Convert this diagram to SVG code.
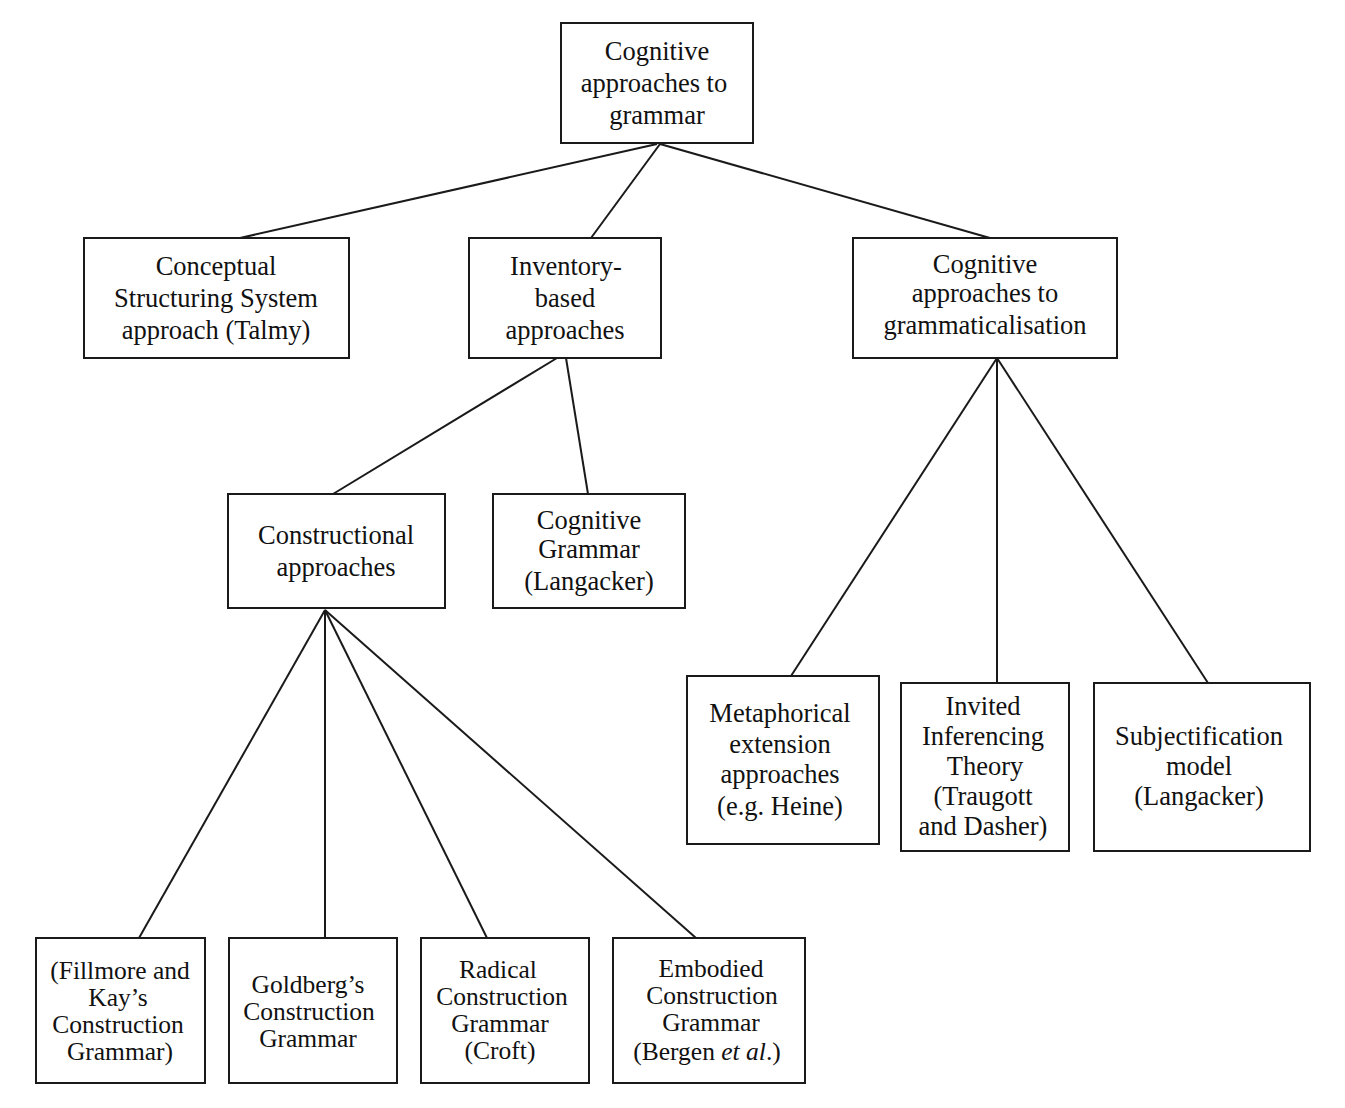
<svg xmlns="http://www.w3.org/2000/svg" width="1345" height="1108" viewBox="0 0 1345 1108">
<style>
rect{fill:#fff;stroke:#1a1a1a;stroke-width:2}
text{font-family:"Liberation Serif","Times New Roman",serif;font-size:26.5px;fill:#111;text-anchor:middle}
.b text{font-size:25.5px}
line{stroke:#1a1a1a;stroke-width:2}
</style>
<rect x="0" y="0" width="1345" height="1108" style="fill:#fff;stroke:none"/>
<g id="connectors">
<line x1="657" y1="144" x2="240" y2="238"/>
<line x1="660" y1="144" x2="591" y2="238"/>
<line x1="660" y1="144" x2="990" y2="238"/>
<line x1="557" y1="358" x2="333" y2="494"/>
<line x1="566" y1="358" x2="588" y2="494"/>
<line x1="997" y1="358" x2="791" y2="676"/>
<line x1="997" y1="358" x2="997" y2="683"/>
<line x1="997" y1="358" x2="1208" y2="683"/>
<line x1="325" y1="610" x2="139" y2="938"/>
<line x1="325" y1="610" x2="325" y2="938"/>
<line x1="325" y1="610" x2="487" y2="938"/>
<line x1="325" y1="610" x2="696" y2="938"/>
</g>
<g id="root"><rect x="561" y="23" width="192" height="120"/>
<text x="657" y="60">Cognitive</text><text x="654" y="92">approaches to</text><text x="657" y="124">grammar</text></g>
<g id="conceptual"><rect x="84" y="238" width="265" height="120"/>
<text x="216" y="275">Conceptual</text><text x="216" y="307">Structuring System</text><text x="216" y="339">approach (Talmy)</text></g>
<g id="inventory"><rect x="469" y="238" width="192" height="120"/>
<text x="566" y="275">Inventory-</text><text x="565" y="307">based</text><text x="565" y="339">approaches</text></g>
<g id="grammaticalisation"><rect x="853" y="238" width="264" height="120"/>
<text x="985" y="273">Cognitive</text><text x="985" y="302">approaches to</text><text x="985" y="334">grammaticalisation</text></g>
<g id="constructional"><rect x="228" y="494" width="217" height="114"/>
<text x="336" y="544">Constructional</text><text x="336" y="576">approaches</text></g>
<g id="cognitive-grammar"><rect x="493" y="494" width="192" height="114"/>
<text x="589" y="529">Cognitive</text><text x="589" y="558">Grammar</text><text x="589" y="590">(Langacker)</text></g>
<g id="metaphorical"><rect x="687" y="676" width="192" height="168"/>
<text x="780" y="722">Metaphorical</text><text x="780" y="753">extension</text><text x="780" y="783">approaches</text><text x="780" y="815">(e.g. Heine)</text></g>
<g id="invited"><rect x="901" y="683" width="168" height="168"/>
<text x="983" y="715">Invited</text><text x="983" y="745">Inferencing</text><text x="985" y="775">Theory</text><text x="983" y="805">(Traugott</text><text x="983" y="835">and Dasher)</text></g>
<g id="subjectification"><rect x="1094" y="683" width="216" height="168"/>
<text x="1199" y="745">Subjectification</text><text x="1199" y="775">model</text><text x="1199" y="805">(Langacker)</text></g>
<g class="b">
<g id="fillmore"><rect x="36" y="938" width="169" height="145"/>
<text x="120" y="979">(Fillmore and</text><text x="118" y="1006">Kay’s</text><text x="118" y="1033">Construction</text><text x="120" y="1060">Grammar)</text></g>
<g id="goldberg"><rect x="229" y="938" width="168" height="145"/>
<text x="308" y="993">Goldberg’s</text><text x="309" y="1020">Construction</text><text x="308" y="1047">Grammar</text></g>
<g id="radical"><rect x="421" y="938" width="168" height="145"/>
<text x="498" y="978">Radical</text><text x="502" y="1005">Construction</text><text x="500" y="1032">Grammar</text><text x="500" y="1059">(Croft)</text></g>
<g id="embodied"><rect x="613" y="938" width="192" height="145"/>
<text x="711" y="977">Embodied</text><text x="712" y="1004">Construction</text><text x="711" y="1031">Grammar</text><text x="707" y="1060">(Bergen <tspan font-style="italic">et al</tspan>.)</text></g>
</g>
</svg>
